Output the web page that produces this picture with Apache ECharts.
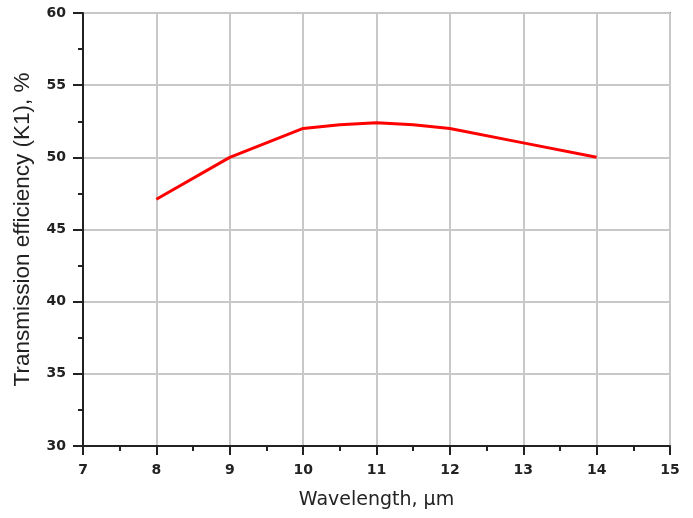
<!DOCTYPE html>
<html>
<head>
<meta charset="utf-8">
<script src="https://cdn.jsdelivr.net/npm/echarts@6/dist/echarts.min.js"></script>
<style>html,body{margin:0;padding:0;background:#fff;}#c{width:693px;height:518px;}</style>
</head>
<body>
<div id="c"></div>
<script>
var wavelength = [8, 9, 10, 10.5, 11, 11.5, 12, 13, 14];
var efficiency = [47.1, 50.0, 52.0, 52.25, 52.4, 52.25, 52.0, 51.0, 50.0];
var xTitle = 'Wavelength, \u00b5m';
var yTitle = 'Transmission efficiency (K1), %';

var chart = echarts.init(document.getElementById('c'));
var labelStyle = {color: '#222', fontFamily: 'DejaVu Sans', fontWeight: 'bold', fontSize: 14};
chart.setOption({
  animation: false,
  grid: {left: 83, right: 23, top: 13, bottom: 72, show: true, borderColor: '#222', borderWidth: 1.5, backgroundColor: 'transparent'},
  xAxis: {
    type: 'value', min: 7, max: 15, interval: 1,
    name: xTitle, nameLocation: 'middle', nameGap: 45,
    nameTextStyle: {color: '#222', fontFamily: 'DejaVu Sans', fontSize: 19},
    axisLine: {show: true, onZero: false, lineStyle: {color: '#222', width: 2}},
    axisTick: {show: true, length: 9, lineStyle: {color: '#222', width: 2}},
    minorTick: {show: true, splitNumber: 2, length: 5, lineStyle: {color: '#222', width: 2}},
    axisLabel: Object.assign({margin: 17}, labelStyle),
    splitLine: {show: true, lineStyle: {color: '#c8c8c8', width: 2}}
  },
  yAxis: {
    type: 'value', min: 30, max: 60, interval: 5,
    name: yTitle, nameLocation: 'middle', nameGap: 49, nameRotate: 90,
    nameTextStyle: {color: '#222', fontFamily: 'Liberation Sans', fontSize: 22.5},
    axisLine: {show: true, onZero: false, lineStyle: {color: '#222', width: 2}},
    axisTick: {show: true, length: 10, lineStyle: {color: '#222', width: 2}},
    minorTick: {show: true, splitNumber: 2, length: 5, lineStyle: {color: '#222', width: 2}},
    axisLabel: Object.assign({margin: 17}, labelStyle),
    splitLine: {show: true, lineStyle: {color: '#c8c8c8', width: 2}}
  },
  series: [{
    type: 'line',
    data: wavelength.map(function (w, i) { return [w, efficiency[i]]; }),
    showSymbol: false,
    lineStyle: {color: '#ff0000', width: 3}
  }]
});
</script>
</body>
</html>
